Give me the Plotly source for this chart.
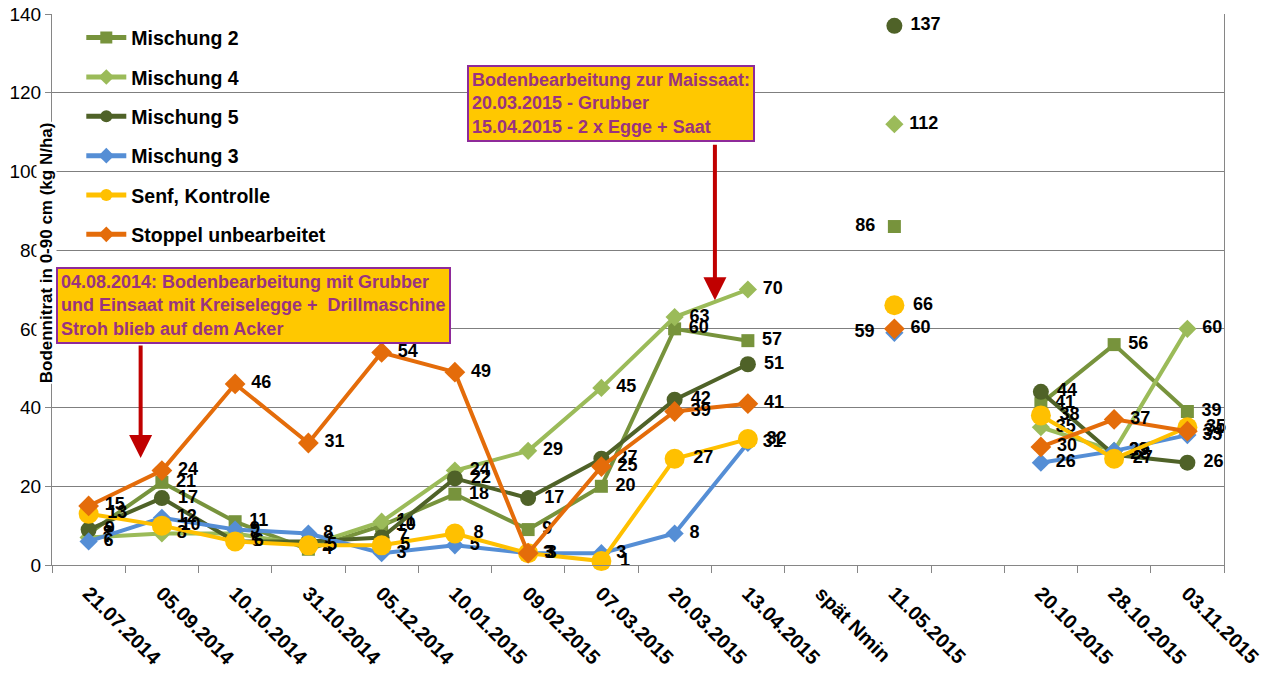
import plotly.graph_objects as go

# Sampling dates (one empty slot separates spring 2015 from autumn 2015)
categories = ["21.07.2014", "05.09.2014", "10.10.2014", "31.10.2014", "05.12.2014",
              "10.01.2015", "09.02.2015", "07.03.2015", "20.03.2015", "13.04.2015",
              "spät Nmin", "11.05.2015", " ", "20.10.2015", "28.10.2015", "03.11.2015"]

# Soil nitrate 0-90 cm, kg N/ha
mischung_2 = [8, 21, 11, 4, 10, 18, 9, 20, 60, 57, None, 86, None, 41, 56, 39]
mischung_4 = [7, 8, 8, 5, 11, 24, 29, 45, 63, 70, None, 112, None, 35, 29, 60]
mischung_5 = [9, 17, 6, 6, 7, 22, 17, 27, 42, 51, None, 137, None, 44, 28, 26]
mischung_3 = [6, 12, 9, 8, 3, 5, 3, 3, 8, 31, None, 59, None, 26, 29, 33]
senf_kontrolle = [13, 10, 6, 5, 5, 8, 3, 1, 27, 32, None, 66, None, 38, 27, 35]
stoppel = [15, 24, 46, 31, 54, 49, 3, 25, 39, 41, None, 60, None, 30, 37, 34]

y_ticks = [0, 20, 40, 60, 80, 100, 120, 140]

FONT = "Arial, Liberation Sans, sans-serif"
NBSP = "\u00a0"

series = [
    ("Mischung 2", mischung_2, "#77933C", "square", 13, {11: "middle left"}),
    ("Mischung 4", mischung_4, "#9BBB59", "diamond", 14, {}),
    ("Mischung 5", mischung_5, "#4F6228", "circle", 16, {}),
    ("Mischung 3", mischung_3, "#558ED5", "diamond", 14, {11: "middle left"}),
    ("Senf, Kontrolle", senf_kontrolle, "#FFC000", "circle", 20, {}),
    ("Stoppel unbearbeitet", stoppel, "#E46C0A", "diamond", 16, {}),
]

fig = go.Figure()
for name, vals, color, symbol, msize, special_pos in series:
    pos = [special_pos.get(k, "middle right") for k in range(len(vals))]
    text = []
    for v, p in zip(vals, pos):
        if v is None:
            text.append("")
        elif p == "middle left":
            text.append(f"{v}{NBSP}{NBSP}")
        else:
            text.append(f"{NBSP}{v}")
    fig.add_trace(go.Scatter(
        x=categories, y=vals, name=name, mode="lines+markers+text",
        line=dict(color=color, width=4),
        marker=dict(color=color, symbol=symbol, size=msize, line=dict(width=0)),
        text=text, textposition=pos,
        textfont=dict(family=FONT, size=18, color="#000000", weight="bold"),
        connectgaps=False, legendgroup=name, cliponaxis=False,
    ))

BOX_FONT = dict(family=FONT, size=18, color="#993380")
annotations = [
    dict(text="<b>Bodennitrat in 0-90 cm (kg N/ha)</b>", textangle=-90,
         xref="paper", yref="paper", x=-0.005, y=0.566,
         xanchor="center", yanchor="middle", showarrow=False,
         font=dict(family=FONT, size=17, color="#000000"),
         bgcolor="#FFFFFF", borderpad=0),
    dict(text="<b>04.08.2014: Bodenbearbeitung mit Grubber<br>"
              "und Einsaat mit Kreiselegge +  Drillmaschine<br>"
              "Stroh blieb auf dem Acker</b>",
         xref="paper", yref="paper", x=0.003, y=0.541, xanchor="left", yanchor="top",
         align="left", showarrow=False, font=BOX_FONT,
         bgcolor="#FFC800", bordercolor="#8E2A9A", borderwidth=2, borderpad=3),
    dict(text="<b>Bodenbearbeitung zur Maissaat:<br>"
              "20.03.2015 - Grubber<br>"
              "15.04.2015 - 2 x Egge + Saat</b>",
         xref="paper", yref="paper", x=0.354, y=0.907, xanchor="left", yanchor="top",
         align="left", showarrow=False, font=BOX_FONT,
         bgcolor="#FFC800", bordercolor="#8E2A9A", borderwidth=2, borderpad=3),
    # tillage arrows
    dict(text="", x=0.71, y=27.2, xref="x", yref="y", ax=0, ay=-114,
         showarrow=True, arrowhead=2, arrowsize=1.15, arrowwidth=4, arrowcolor="#C00000"),
    dict(text="", x=8.55, y=67.3, xref="x", yref="y", ax=0, ay=-157,
         showarrow=True, arrowhead=2, arrowsize=1.15, arrowwidth=4, arrowcolor="#C00000"),
]

fig.update_layout(
    width=1287, height=673,
    margin=dict(l=52, r=63, t=14, b=108, autoexpand=False),
    paper_bgcolor="#FFFFFF", plot_bgcolor="#FFFFFF",
    font=dict(family=FONT, color="#000000"),
    showlegend=True,
    legend=dict(x=0.025, y=0.992, xanchor="left", yanchor="top",
                bgcolor="rgba(0,0,0,0)", borderwidth=0,
                font=dict(family=FONT, size=19.5, color="#000000", weight="bold"),
                traceorder="grouped", tracegroupgap=11, itemsizing="constant",
                itemwidth=40),
    annotations=annotations,
)

fig.update_xaxes(
    type="category", categoryorder="array", categoryarray=categories,
    range=[-0.5, len(categories) - 0.5], automargin=False,
    tickangle=45, tickson="boundaries", ticks="outside", ticklen=7,
    tickcolor="#868686", showline=True, linecolor="#868686", linewidth=1,
    showgrid=False, zeroline=False, ticklabelstandoff=8,
    tickfont=dict(family=FONT, size=20, color="#000000", weight="bold"),
)
fig.update_yaxes(
    range=[0, 140], tickvals=y_ticks, ticks="outside", ticklen=6, automargin=False,
    tickcolor="#868686", showline=True, linecolor="#868686", linewidth=1, mirror=True,
    showgrid=True, gridcolor="#7F7F7F", gridwidth=1, zeroline=False,
    tickfont=dict(family=FONT, size=19, color="#000000"),
)

fig.write_html("out.html")
